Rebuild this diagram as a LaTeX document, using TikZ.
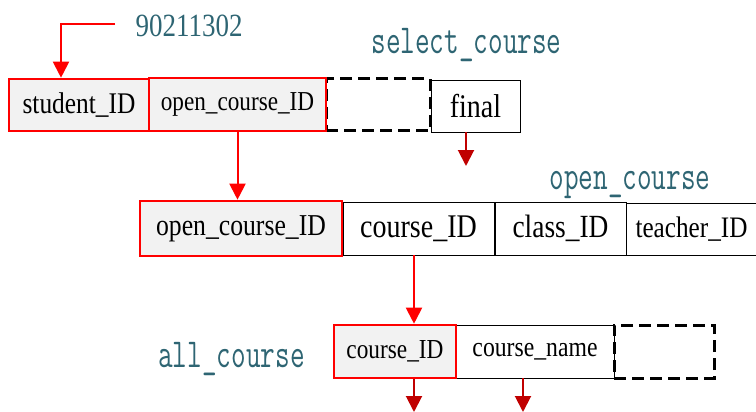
\documentclass[tikz,border=0pt]{standalone}
\usepackage{fontspec}
\setmainfont{Liberation Serif}
\usepackage{graphicx}
\usetikzlibrary{arrows.meta}
\definecolor{teal}{HTML}{2E6573}
\definecolor{boxred}{HTML}{FF0000}
\definecolor{darkred}{HTML}{C00000}
\definecolor{cellgray}{HTML}{F2F2F2}
\newcommand\lbltext[1]{\scalebox{1}[1.45]{\fontsize{28.4}{30}\selectfont\ttfamily #1}}
\newcommand\celltext[2]{\raisebox{-2.5pt}{\scalebox{1}[1.18]{\fontsize{#1}{#1}\selectfont #2}}}
\tikzset{
  cell/.style={draw=black, line width=0.8pt, fill=white, inner sep=0pt},
  keycell/.style={draw=boxred, line width=2.6pt, fill=cellgray, inner sep=0pt},
  dashcell/.style={draw=black, line width=3pt, dash pattern=on 12pt off 6pt, inner sep=0pt},
  lbl/.style={text=teal, inner sep=0pt},
  redarrow/.style={draw=boxred, line width=2pt, -{Triangle[width=16pt,length=16pt]}},
  darkarrow/.style={draw=darkred, line width=2pt, -{Triangle[width=16pt,length=16pt]}},
}
\begin{document}
\begin{tikzpicture}[x=1pt,y=-1pt]
\useasboundingbox (0,0) rectangle (756,412);
% top row
\node[dashcell, minimum width=104pt, minimum height=52pt] (d1) at (378,105) {};
\node[cell, minimum width=89pt, minimum height=52pt] (final) at (475.5,106) {\celltext{28}{final}};
\node[keycell, minimum width=140pt, minimum height=52pt] (sid) at (79,105) {\celltext{25.4}{student\_ID}};
\node[keycell, minimum width=177pt, minimum height=53pt] (oc1) at (237.5,104.5) {\celltext{23.2}{open\_course\_ID}};
% middle row
\node[cell, minimum width=151pt, minimum height=53pt] (cid2) at (418.5,228.5) {\celltext{28}{course\_ID}};
\node[cell, minimum width=131pt, minimum height=53pt] (cls) at (560.5,228.5) {\celltext{27.4}{class\_ID}};
\node[cell, minimum width=131pt, minimum height=52pt] (tch) at (691.5,229) {\celltext{25.2}{teacher\_ID}};
\node[keycell, minimum width=202pt, minimum height=55pt] (oc2) at (241,228.5) {\celltext{25.7}{open\_course\_ID}};
% bottom row
\node[cell, minimum width=158pt, minimum height=53pt] (cname) at (535,351.5) {\celltext{23.7}{course\_name}};
\node[dashcell, minimum width=100pt, minimum height=53pt] (d3) at (664,351.5) {};
\node[keycell, minimum width=122pt, minimum height=53pt] (cid3) at (395,351.5) {\celltext{23.3}{course\_ID}};
% labels
\node[lbl] (num) at (189,26) {\scalebox{1}[1.2]{\fontsize{27}{28}\selectfont 90211302}};
\node[lbl] (lsel) at (466.5,45) {\lbltext{select\_course}};
\node[lbl] (lopen) at (630,185) {\lbltext{open\_course}};
\node[lbl] (lall) at (231.5,359) {\lbltext{all\_course}};
% connectors
\coordinate (n0) at (115,24);
\draw[redarrow] (n0) -| ([xshift=-18pt]sid.north);
\draw[redarrow] (oc1.south) -- (oc1.south |- oc2.north);
\coordinate (f0) at (466,166);
\draw[darkarrow] (final.south -| f0) -- (f0);
\coordinate (c0) at (414,300);
\draw[redarrow] (cid2.south -| c0) -- (cid3.north -| c0);
\coordinate (b1) at (414,412);
\coordinate (b2) at (523,412);
\draw[darkarrow] (cid3.south -| b1) -- (b1);
\draw[darkarrow] (cname.south -| b2) -- (b2);
\end{tikzpicture}
\end{document}
